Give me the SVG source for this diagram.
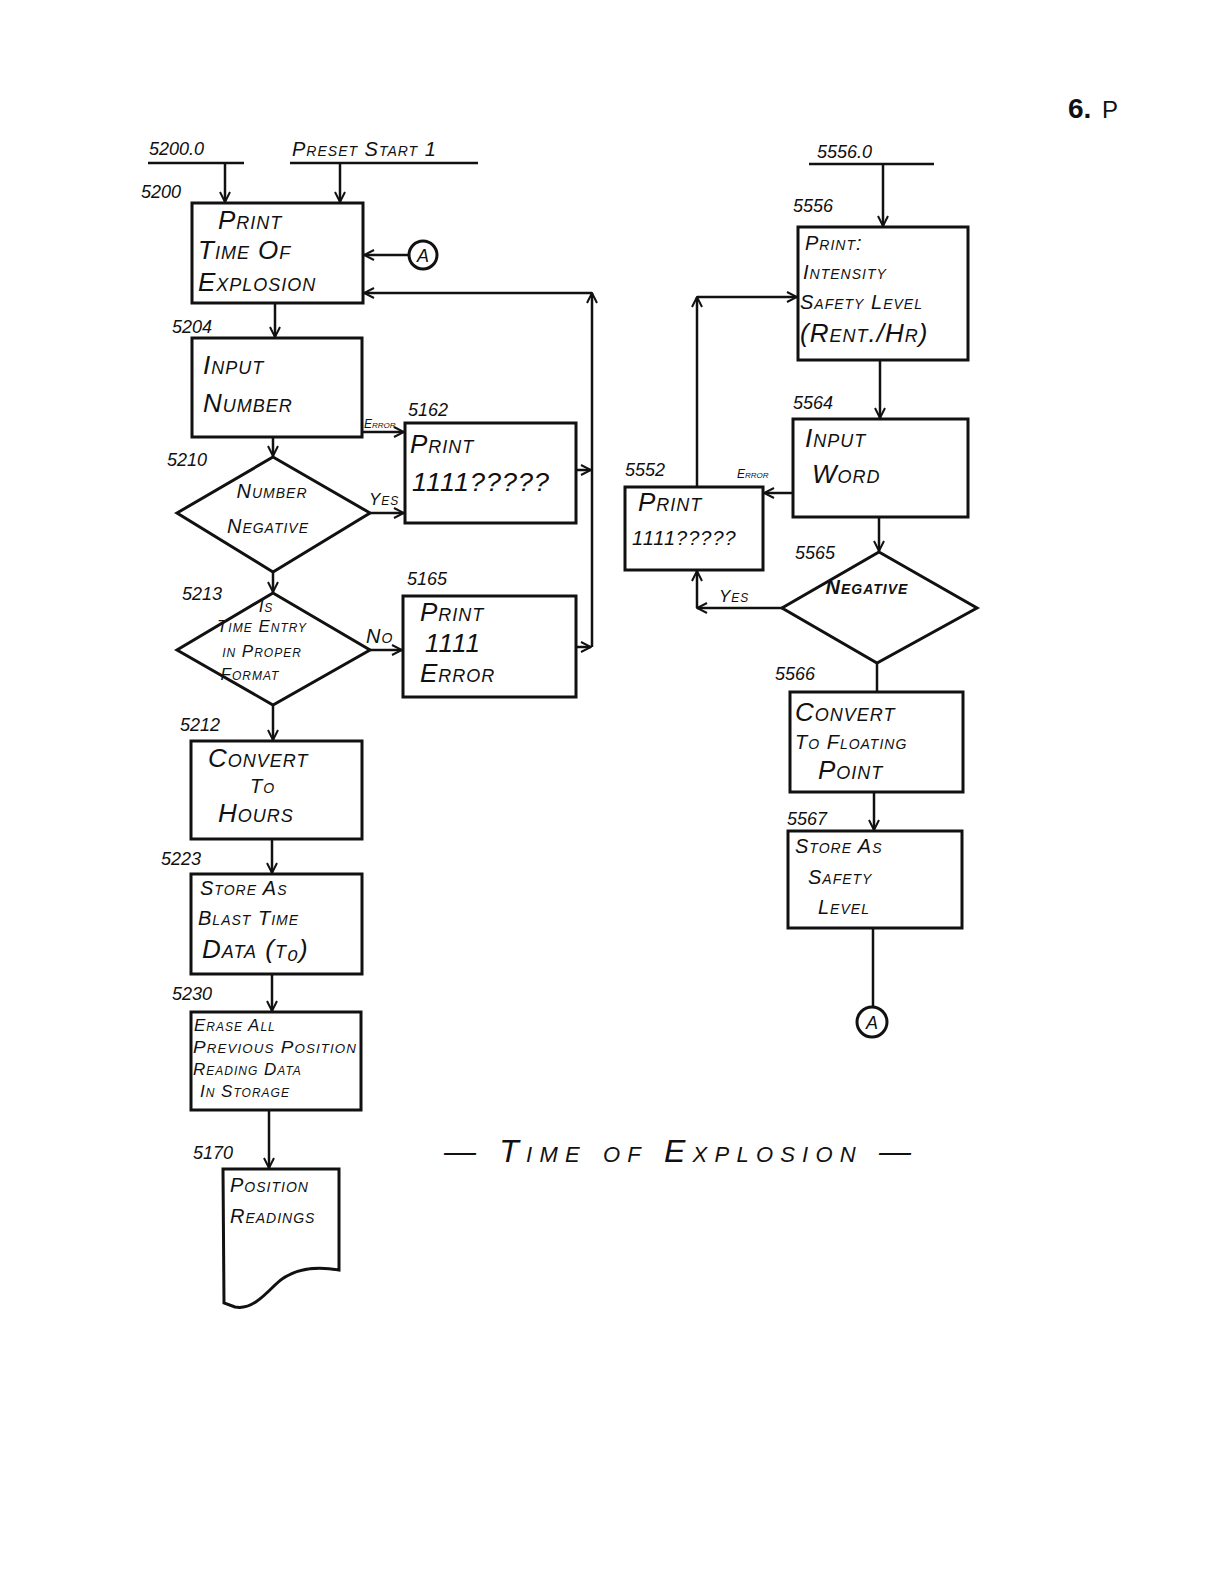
<svg xmlns="http://www.w3.org/2000/svg" width="1224" height="1584" viewBox="0 0 1224 1584">
<style>
.bg{fill:#ffffff}
.box{fill:none;stroke:#111;stroke-width:3}
.ln{fill:none;stroke:#111;stroke-width:2.5}
.t{font-family:"Liberation Sans",Arial,sans-serif;font-style:italic;font-variant:small-caps;fill:#111;letter-spacing:1px}
.b{font-size:26px}
.m{font-size:20px}
.s{font-size:17px}
.n{font-family:"Liberation Sans",Arial,sans-serif;font-style:italic;font-size:18px;fill:#111}
.tiny{font-family:"Liberation Sans",Arial,sans-serif;font-style:italic;font-variant:small-caps;font-size:12px;fill:#111}
</style>
<defs>
<marker id="ah" viewBox="0 0 12 12" refX="11" refY="6" markerWidth="12" markerHeight="12" markerUnits="userSpaceOnUse" orient="auto">
<path d="M1,1 L11,6 L1,11" fill="none" stroke="#111" stroke-width="2"/>
</marker>
</defs>
<rect class="bg" x="0" y="0" width="1224" height="1584"/>

<g id="connectors">
<line class="ln" x1="148" y1="163" x2="244" y2="163"/>
<line class="ln" x1="225" y1="163" x2="225" y2="202" marker-end="url(#ah)"/>
<line class="ln" x1="290" y1="163" x2="478" y2="163"/>
<line class="ln" x1="340" y1="163" x2="340" y2="202" marker-end="url(#ah)"/>
<line class="ln" x1="409" y1="255" x2="364" y2="255" marker-end="url(#ah)"/>
<line class="ln" x1="592" y1="647" x2="592" y2="293" marker-end="url(#ah)"/>
<line class="ln" x1="592" y1="293" x2="364" y2="293" marker-end="url(#ah)"/>
<line class="ln" x1="576" y1="470" x2="591" y2="470" marker-end="url(#ah)"/>
<line class="ln" x1="576" y1="647" x2="591" y2="647" marker-end="url(#ah)"/>
<line class="ln" x1="275" y1="303" x2="275" y2="337" marker-end="url(#ah)"/>
<line class="ln" x1="362" y1="432" x2="404" y2="432" marker-end="url(#ah)"/>
<line class="ln" x1="273" y1="437" x2="273" y2="456" marker-end="url(#ah)"/>
<line class="ln" x1="370" y1="513" x2="404" y2="513" marker-end="url(#ah)"/>
<line class="ln" x1="273" y1="572" x2="273" y2="592" marker-end="url(#ah)"/>
<line class="ln" x1="370" y1="650" x2="402" y2="650" marker-end="url(#ah)"/>
<line class="ln" x1="273" y1="705" x2="273" y2="740" marker-end="url(#ah)"/>
<line class="ln" x1="272" y1="839" x2="272" y2="873" marker-end="url(#ah)"/>
<line class="ln" x1="272" y1="974" x2="272" y2="1011" marker-end="url(#ah)"/>
<line class="ln" x1="269" y1="1110" x2="269" y2="1168" marker-end="url(#ah)"/>

<line class="ln" x1="809" y1="164" x2="934" y2="164"/>
<line class="ln" x1="883" y1="164" x2="883" y2="226" marker-end="url(#ah)"/>
<line class="ln" x1="880" y1="360" x2="880" y2="418" marker-end="url(#ah)"/>
<line class="ln" x1="793" y1="493" x2="764" y2="493" marker-end="url(#ah)"/>
<line class="ln" x1="697" y1="487" x2="697" y2="297" marker-end="url(#ah)"/>
<line class="ln" x1="697" y1="297" x2="797" y2="297" marker-end="url(#ah)"/>
<line class="ln" x1="879" y1="517" x2="879" y2="551" marker-end="url(#ah)"/>
<line class="ln" x1="782" y1="608" x2="697" y2="608" marker-end="url(#ah)"/>
<line class="ln" x1="697" y1="608" x2="697" y2="571" marker-end="url(#ah)"/>
<line class="ln" x1="877" y1="663" x2="877" y2="692"/>
<line class="ln" x1="874" y1="792" x2="874" y2="830" marker-end="url(#ah)"/>
<line class="ln" x1="873" y1="928" x2="873" y2="1007"/>
</g>

<g id="labels">
<text class="n" x="149" y="155">5200.0</text>
<text class="t m" x="292" y="156">Preset Start 1</text>
<text class="n" x="817" y="158">5556.0</text>
<text class="n" x="141" y="198">5200</text>
<text class="n" x="172" y="333">5204</text>
<text class="n" x="167" y="466">5210</text>
<text class="n" x="182" y="600">5213</text>
<text class="n" x="180" y="731">5212</text>
<text class="n" x="161" y="865">5223</text>
<text class="n" x="172" y="1000">5230</text>
<text class="n" x="193" y="1159">5170</text>
<text class="n" x="408" y="416">5162</text>
<text class="n" x="407" y="585">5165</text>
<text class="n" x="793" y="212">5556</text>
<text class="n" x="793" y="409">5564</text>
<text class="n" x="625" y="476">5552</text>
<text class="n" x="795" y="559">5565</text>
<text class="n" x="775" y="680">5566</text>
<text class="n" x="787" y="825">5567</text>
<text class="tiny" x="364" y="428">Error</text>
<text class="tiny" x="737" y="478">Error</text>
<text class="t s" x="369" y="505">Yes</text>
<text class="t m" x="366" y="643">No</text>
<text class="t s" x="719" y="602">Yes</text>
</g>

<g id="n5200">
<rect class="box" x="192" y="203" width="171" height="100"/>
<text class="t b" x="218" y="229">Print</text>
<text class="t b" x="198" y="259">Time Of</text>
<text class="t b" x="198" y="291">Explosion</text>
</g>
<g id="connA1">
<circle class="box" cx="423" cy="255" r="14" stroke-width="2.5"/>
<text class="n" x="423" y="262" text-anchor="middle" font-style="normal" font-size="19">A</text>
</g>
<g id="n5204">
<rect class="box" x="192" y="338" width="170" height="99"/>
<text class="t b" x="203" y="374">Input</text>
<text class="t b" x="203" y="412">Number</text>
</g>
<g id="n5162">
<rect class="box" x="405" y="423" width="171" height="100"/>
<text class="t b" x="410" y="453">Print</text>
<text class="t b" x="412" y="491" font-size="24" textLength="138" lengthAdjust="spacingAndGlyphs">1111?????</text>
</g>
<g id="n5210">
<polygon class="box" points="273,457 370,513 273,572 177,513"/>
<text class="t m" x="272" y="498" text-anchor="middle">Number</text>
<text class="t m" x="268" y="533" text-anchor="middle">Negative</text>
</g>
<g id="n5213">
<polygon class="box" points="273,593 370,650 273,705 177,650"/>
<text class="t s" x="266" y="612" text-anchor="middle">Is</text>
<text class="t s" x="262" y="632" text-anchor="middle">Time Entry</text>
<text class="t s" x="262" y="657" text-anchor="middle">in Proper</text>
<text class="t s" x="250" y="680" text-anchor="middle">Format</text>
</g>
<g id="n5165">
<rect class="box" x="403" y="596" width="173" height="101"/>
<text class="t b" x="420" y="621">Print</text>
<text class="t b" x="425" y="652">1111</text>
<text class="t b" x="420" y="682">Error</text>
</g>
<g id="n5212">
<rect class="box" x="191" y="741" width="171" height="98"/>
<text class="t b" x="208" y="767">Convert</text>
<text class="t m" x="250" y="793">To</text>
<text class="t b" x="218" y="822">Hours</text>
</g>
<g id="n5223">
<rect class="box" x="191" y="874" width="171" height="100"/>
<text class="t m" x="200" y="895">Store  As</text>
<text class="t m" x="198" y="925">Blast Time</text>
<text class="t b" x="202" y="958">Data (t₀)</text>
</g>
<g id="n5230">
<rect class="box" x="191" y="1012" width="170" height="98"/>
<text class="t s" x="194" y="1031">Erase All</text>
<text class="t s" x="193" y="1053" textLength="164" lengthAdjust="spacingAndGlyphs">Previous Position</text>
<text class="t s" x="193" y="1075">Reading Data</text>
<text class="t s" x="200" y="1097">In Storage</text>
</g>
<g id="n5170">
<path class="box" d="M223,1169 L339,1169 L339,1270 C310,1265 290,1270 275,1285 C262,1298 250,1310 235,1307 L224,1303 Z"/>
<text class="t m" x="230" y="1192">Position</text>
<text class="t m" x="230" y="1223">Readings</text>
</g>

<g id="n5556">
<rect class="box" x="798" y="227" width="170" height="133"/>
<text class="t m" x="805" y="250">Print:</text>
<text class="t m" x="803" y="279">Intensity</text>
<text class="t m" x="800" y="309">Safety Level</text>
<text class="t b" x="800" y="342">(Rent./Hr)</text>
</g>
<g id="n5564">
<rect class="box" x="793" y="419" width="175" height="98"/>
<text class="t b" x="805" y="447">Input</text>
<text class="t b" x="812" y="483">Word</text>
</g>
<g id="n5552">
<rect class="box" x="625" y="487" width="138" height="83"/>
<text class="t b" x="638" y="511">Print</text>
<text class="t m" x="632" y="545">1111?????</text>
</g>
<g id="n5565">
<polygon class="box" points="879,552 977,608 877,663 782,608"/>
<text class="t m" x="867" y="594" text-anchor="middle" font-weight="bold">Negative</text>
</g>
<g id="n5566">
<rect class="box" x="790" y="692" width="173" height="100"/>
<text class="t b" x="795" y="721">Convert</text>
<text class="t m" x="795" y="749">To Floating</text>
<text class="t b" x="818" y="779">Point</text>
</g>
<g id="n5567">
<rect class="box" x="788" y="831" width="174" height="97"/>
<text class="t m" x="795" y="853">Store  As</text>
<text class="t m" x="808" y="884">Safety</text>
<text class="t m" x="818" y="914">Level</text>
</g>
<g id="connA2">
<circle class="box" cx="872" cy="1022" r="15" stroke-width="2.5"/>
<text class="n" x="872" y="1029" text-anchor="middle" font-style="normal" font-size="20">A</text>
</g>

<g id="title">
<text class="t" x="444" y="1162" font-size="32" textLength="468" lengthAdjust="spacing">— Time  of  Explosion —</text>
<text x="1068" y="118" font-family="Liberation Sans,Arial,sans-serif" font-weight="bold" font-size="28" fill="#111">6.</text>
<text x="1102" y="118" font-family="Liberation Sans,Arial,sans-serif" font-size="24" fill="#111">P</text>
</g>
</svg>
